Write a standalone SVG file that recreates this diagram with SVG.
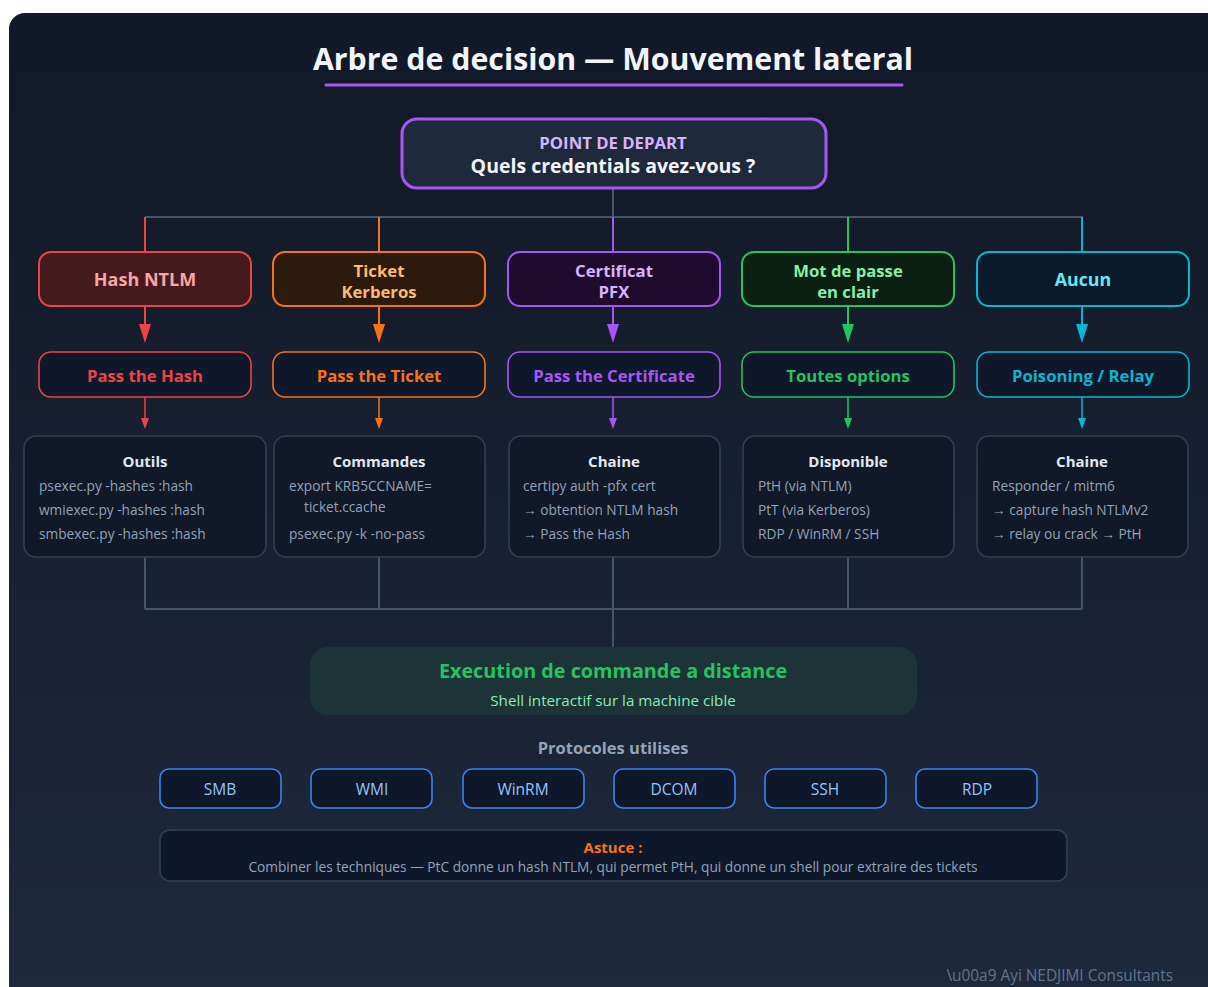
<svg xmlns="http://www.w3.org/2000/svg" width="1208" height="987" viewBox="0 0 1208 987">
<defs>
<linearGradient id="bg" x1="0" y1="0" x2="0" y2="1">
<stop offset="0" stop-color="#111827"/>
<stop offset="1" stop-color="#1e293b"/>
</linearGradient>
<style>
text{font-family:"Open Sans","Noto Sans","Liberation Sans",sans-serif}
.t{text-anchor:middle}
.b{font-weight:bold}
.l1{stroke-width:2}
.l2{fill:#0f172a;stroke-width:1.6}
.l3{fill:#111827;stroke:#334155;stroke-width:1.5}
.h3{font-size:15px;font-weight:bold;fill:#e2e8f0;text-anchor:middle}
.it{font-size:13.7px;fill:#94a3b8}
.gray{stroke:#475569;stroke-width:2;fill:none}
.proto rect{fill:#0f172a;stroke:#3b82f6;stroke-width:1.6}
.proto text{font-size:15.5px;fill:#93c5fd;text-anchor:middle}
</style>
</defs>
<rect x="0" y="0" width="1208" height="987" fill="#ffffff"/>
<rect x="9" y="13" width="1215" height="1000" rx="16" fill="url(#bg)"/>

<text x="613" y="70" class="t b" font-size="30.3" fill="#f1f5f9">Arbre de decision — Mouvement lateral</text>
<line x1="326" y1="85" x2="902" y2="85" stroke="#a855f7" stroke-width="3" stroke-linecap="round"/>

<g id="connectors">
<path class="gray" d="M613,188 V217 M145,217 H1083"/>
<line x1="145" y1="217" x2="145" y2="252" stroke="#ef4444" stroke-width="2"/>
<line x1="379" y1="217" x2="379" y2="252" stroke="#f97316" stroke-width="2"/>
<line x1="613" y1="217" x2="613" y2="252" stroke="#a855f7" stroke-width="2"/>
<line x1="848" y1="217" x2="848" y2="252" stroke="#22c55e" stroke-width="2"/>
<line x1="1082" y1="217" x2="1082" y2="252" stroke="#06b6d4" stroke-width="2"/>
<g stroke-width="2">
<line x1="145" y1="306" x2="145" y2="330" stroke="#ef4444"/><path d="M139,324 L151,324 L145,343 Z" fill="#ef4444"/>
<line x1="379" y1="306" x2="379" y2="330" stroke="#f97316"/><path d="M373,324 L385,324 L379,343 Z" fill="#f97316"/>
<line x1="613" y1="306" x2="613" y2="330" stroke="#a855f7"/><path d="M607,324 L619,324 L613,343 Z" fill="#a855f7"/>
<line x1="848" y1="306" x2="848" y2="330" stroke="#22c55e"/><path d="M842,324 L854,324 L848,343 Z" fill="#22c55e"/>
<line x1="1082" y1="306" x2="1082" y2="330" stroke="#06b6d4"/><path d="M1076,324 L1088,324 L1082,343 Z" fill="#06b6d4"/>
</g>
<g stroke-width="1.5">
<line x1="145" y1="397" x2="145" y2="420" stroke="#ef4444"/><path d="M141,418 L149,418 L145,429 Z" fill="#ef4444"/>
<line x1="379" y1="397" x2="379" y2="420" stroke="#f97316"/><path d="M375,418 L383,418 L379,429 Z" fill="#f97316"/>
<line x1="613" y1="397" x2="613" y2="420" stroke="#a855f7"/><path d="M609,418 L617,418 L613,429 Z" fill="#a855f7"/>
<line x1="848" y1="397" x2="848" y2="420" stroke="#22c55e"/><path d="M844,418 L852,418 L848,429 Z" fill="#22c55e"/>
<line x1="1082" y1="397" x2="1082" y2="420" stroke="#06b6d4"/><path d="M1078,418 L1086,418 L1082,429 Z" fill="#06b6d4"/>
</g>
<path class="gray" stroke-width="1.5" d="M145,557 V609 M379,557 V609 M613,557 V647 M848,557 V609 M1082,557 V609 M145,609 H1082"/>
</g>

<g id="start">
<rect x="402" y="119" width="424" height="69" rx="15" fill="#1e293b" stroke="#a855f7" stroke-width="3"/>
<text x="613" y="149" class="t b" font-size="16.7" fill="#d8b4fe">POINT DE DEPART</text>
<text x="613" y="173" class="t b" font-size="19.5" fill="#f1f5f9">Quels credentials avez-vous ?</text>
</g>

<g id="n-hash">
<rect x="39" y="252" width="212" height="54" rx="12" fill="#451a1f" stroke="#ef4444" class="l1"/>
<text x="145" y="286" class="t b" font-size="18" fill="#fca5a5">Hash NTLM</text>
</g>
<g id="n-ticket">
<rect x="273" y="252" width="212" height="54" rx="12" fill="#2c1a0c" stroke="#f97316" class="l1"/>
<text x="379" y="277" class="t b" font-size="16.7" fill="#fdba74">Ticket</text>
<text x="379" y="298" class="t b" font-size="16.7" fill="#fdba74">Kerberos</text>
</g>
<g id="n-cert">
<rect x="508" y="252" width="212" height="54" rx="12" fill="#1e0b2e" stroke="#a855f7" class="l1"/>
<text x="614" y="277" class="t b" font-size="16.7" fill="#d8b4fe">Certificat</text>
<text x="614" y="298" class="t b" font-size="16.7" fill="#d8b4fe">PFX</text>
</g>
<g id="n-pass">
<rect x="742" y="252" width="212" height="54" rx="12" fill="#0b1f12" stroke="#22c55e" class="l1"/>
<text x="848" y="277" class="t b" font-size="16.7" fill="#86efac">Mot de passe</text>
<text x="848" y="298" class="t b" font-size="16.7" fill="#86efac">en clair</text>
</g>
<g id="n-aucun">
<rect x="977" y="252" width="212" height="54" rx="12" fill="#0c1b2b" stroke="#06b6d4" class="l1"/>
<text x="1083" y="286" class="t b" font-size="17.8" fill="#67e8f9">Aucun</text>
</g>

<g id="m-pth">
<rect x="39" y="352" width="212" height="45" rx="12" class="l2" stroke="#ef4444"/>
<text x="145" y="382" class="t b" font-size="16.7" fill="#ef4444">Pass the Hash</text>
</g>
<g id="m-ptt">
<rect x="273" y="352" width="212" height="45" rx="12" class="l2" stroke="#f97316"/>
<text x="379" y="382" class="t b" font-size="16.7" fill="#f97316">Pass the Ticket</text>
</g>
<g id="m-ptc">
<rect x="508" y="352" width="212" height="45" rx="12" class="l2" stroke="#a855f7"/>
<text x="614" y="382" class="t b" font-size="16.7" fill="#a855f7">Pass the Certificate</text>
</g>
<g id="m-all">
<rect x="742" y="352" width="212" height="45" rx="12" class="l2" stroke="#22c55e"/>
<text x="848" y="382" class="t b" font-size="16.7" fill="#22c55e">Toutes options</text>
</g>
<g id="m-relay">
<rect x="977" y="352" width="212" height="45" rx="12" class="l2" stroke="#06b6d4"/>
<text x="1083" y="382" class="t b" font-size="16.7" fill="#06b6d4">Poisoning / Relay</text>
</g>

<g id="d-outils">
<rect x="24" y="436" width="242" height="121" rx="12" class="l3"/>
<text x="145" y="467" class="h3">Outils</text>
<text x="39" y="491" class="it">psexec.py -hashes :hash</text>
<text x="39" y="515" class="it">wmiexec.py -hashes :hash</text>
<text x="39" y="539" class="it">smbexec.py -hashes :hash</text>
</g>
<g id="d-cmd">
<rect x="274" y="436" width="211" height="121" rx="12" class="l3"/>
<text x="379" y="467" class="h3">Commandes</text>
<text x="289" y="491" class="it">export KRB5CCNAME=</text>
<text x="304" y="512" class="it">ticket.ccache</text>
<text x="289" y="539" class="it">psexec.py -k -no-pass</text>
</g>
<g id="d-chain1">
<rect x="509" y="436" width="211" height="121" rx="12" class="l3"/>
<text x="614" y="467" class="h3">Chaine</text>
<text x="523" y="491" class="it">certipy auth -pfx cert</text>
<text x="523" y="515" class="it">→ obtention NTLM hash</text>
<text x="523" y="539" class="it">→ Pass the Hash</text>
</g>
<g id="d-dispo">
<rect x="743" y="436" width="211" height="121" rx="12" class="l3"/>
<text x="848" y="467" class="h3">Disponible</text>
<text x="758" y="491" class="it">PtH (via NTLM)</text>
<text x="758" y="515" class="it">PtT (via Kerberos)</text>
<text x="758" y="539" class="it">RDP / WinRM / SSH</text>
</g>
<g id="d-chain2">
<rect x="977" y="436" width="211" height="121" rx="12" class="l3"/>
<text x="1082" y="467" class="h3">Chaine</text>
<text x="992" y="491" class="it">Responder / mitm6</text>
<text x="992" y="515" class="it">→ capture hash NTLMv2</text>
<text x="992" y="539" class="it">→ relay ou crack → PtH</text>
</g>

<g id="exec">
<rect x="310" y="647" width="607" height="68" rx="18" fill="#1c3338"/>
<text x="613" y="678" class="t b" font-size="19.8" fill="#22c55e">Execution de commande a distance</text>
<text x="613" y="706" class="t" font-size="15.2" fill="#86efac">Shell interactif sur la machine cible</text>
</g>

<text x="613" y="754" class="t b" font-size="16.5" fill="#94a3b8">Protocoles utilises</text>
<g id="p-smb" class="proto"><rect x="160" y="769" width="121" height="39" rx="9"/><text x="220" y="795">SMB</text></g>
<g id="p-wmi" class="proto"><rect x="311" y="769" width="121" height="39" rx="9"/><text x="372" y="795">WMI</text></g>
<g id="p-winrm" class="proto"><rect x="463" y="769" width="121" height="39" rx="9"/><text x="523" y="795">WinRM</text></g>
<g id="p-dcom" class="proto"><rect x="614" y="769" width="121" height="39" rx="9"/><text x="674" y="795">DCOM</text></g>
<g id="p-ssh" class="proto"><rect x="765" y="769" width="121" height="39" rx="9"/><text x="825" y="795">SSH</text></g>
<g id="p-rdp" class="proto"><rect x="916" y="769" width="121" height="39" rx="9"/><text x="977" y="795">RDP</text></g>

<g id="astuce">
<rect x="160" y="830" width="907" height="51" rx="10" fill="#0f172a" stroke="#334155" stroke-width="1.5"/>
<text x="613" y="853" class="t b" font-size="15" fill="#f97316">Astuce :</text>
<text x="613" y="872" class="t" font-size="13.7" fill="#94a3b8">Combiner les techniques — PtC donne un hash NTLM, qui permet PtH, qui donne un shell pour extraire des tickets</text>
</g>

<text x="1173" y="981" font-size="15.4" fill="#64748b" text-anchor="end">\u00a9 Ayi NEDJIMI Consultants</text>
</svg>
